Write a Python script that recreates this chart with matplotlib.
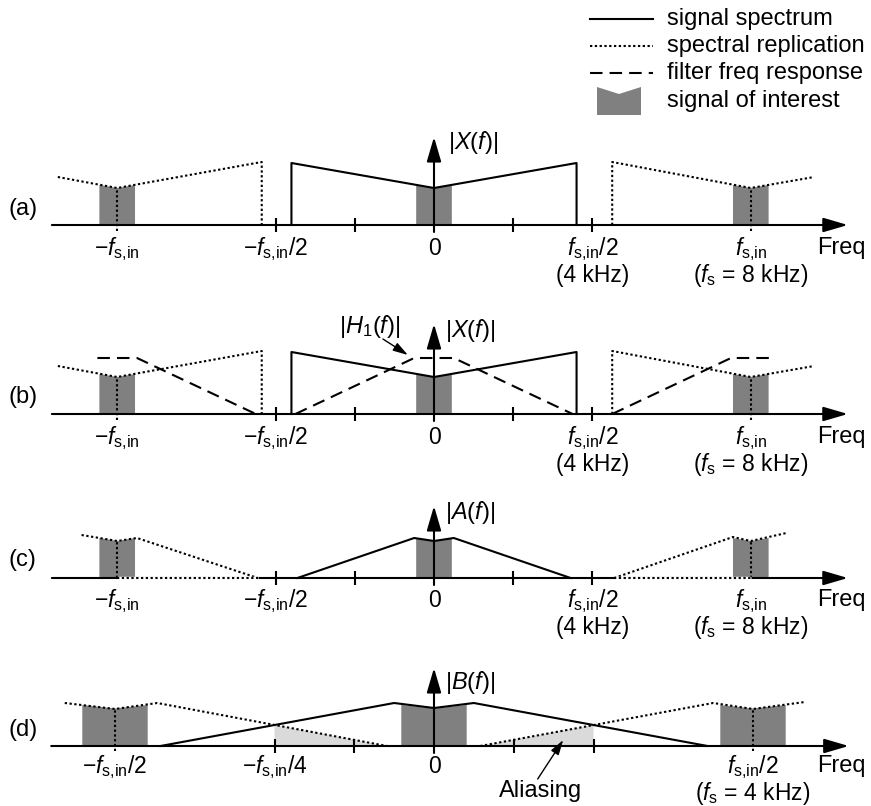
import matplotlib
matplotlib.use('Agg')
import matplotlib.pyplot as plt

plt.rcParams['font.family'] = ['Liberation Sans', 'DejaVu Sans']
plt.rcParams['mathtext.fontset'] = 'custom'
plt.rcParams['mathtext.rm'] = 'Liberation Sans'
plt.rcParams['mathtext.it'] = 'Liberation Sans:italic'
plt.rcParams['mathtext.bf'] = 'Liberation Sans:bold'

# ---------------- data (frequency in kHz, magnitude in arbitrary units) ----------------
ticks_abc = [-4, -2, 2, 4]
ticks_d = [-2, -1, 1, 2]

# (a),(b) |X(f)| and its replicas
x_sig_f = [-3.6, -3.6, 0.0, 3.6, 3.6]
x_sig_h = [0, 62, 37, 62, 0]
x_repL_f = [-9.5, -8.0, -4.35, -4.35]
x_repL_h = [48, 37, 63, 0]
x_repR_f = [4.5, 4.5, 8.0, 9.6]
x_repR_h = [0, 63, 37, 48]

# (b) filter |H1(f)| and replicas
h_f = [-3.5, -0.5, 0.5, 3.5]
h_h = [0, 56, 56, 0]
h_repL_f = [-8.5, -7.5, -4.5]
h_repL_h = [56, 56, 0]
h_repR_f = [4.5, 7.5, 8.5]
h_repR_h = [0, 56, 56]

# (c) |A(f)| and replicas
a_sig_f = [-3.45, -0.5, 0.0, 0.5, 3.45]
a_sig_h = [0, 40, 37, 40, 0]
a_repL_f = [-8.9, -8.0, -7.5, -4.45]
a_repL_h = [43, 37, 40, 0]
a_repR_f = [4.55, 7.55, 8.0, 8.9]
a_repR_h = [0, 41, 37, 45]

# (d) |B(f)| and replicas (f_s = 4 kHz)
b_sig_f = [-3.43, -0.5, 0.0, 0.5, 3.43]
b_sig_h = [0, 43, 38, 43, 0]
b_repL_f = [-4.63, -4.0, -3.47, -0.59]
b_repL_h = [43, 37, 43, 0]
b_repR_f = [0.58, 3.5, 4.0, 4.65]
b_repR_h = [0, 43, 37, 44]
alias_L_f = [-2.0, -2.0, -0.59]
alias_L_h = [0, 21, 0]
alias_R_f = [0.58, 2.0, 2.0]
alias_R_h = [0, 21, 0]

# signals of interest (band offsets around each centre, top heights)
band_abc_centers = [-8, 0, 8]
band_abc_off = [-0.45, 0.0, 0.45]
band_ab_top = [40, 37, 40]
band_c_top = [40, 37, 40]
band_d_centers = [-4, 0, 4]
band_d_off = [-0.41, 0.0, 0.41]
band_d_top = [41, 37.5, 41]

labels_abc = [(-8, r'$-f_{\mathrm{s{,}in}}$', None),
              (-4, r'$-f_{\mathrm{s{,}in}}/2$', None),
              (0, '0', None),
              (4, r'$f_{\mathrm{s{,}in}}/2$', '(4 kHz)'),
              (8, r'$f_{\mathrm{s{,}in}}$', r'($f_{\mathrm{s}}$ = 8 kHz)')]
labels_d = [(-4, r'$-f_{\mathrm{s{,}in}}/2$', None),
            (-2, r'$-f_{\mathrm{s{,}in}}/4$', None),
            (0, '0', None),
            (4, r'$f_{\mathrm{s{,}in}}/2$', r'($f_{\mathrm{s}}$ = 4 kHz)')]

# ---------------- figure ----------------
W, H = 871, 806
fig = plt.figure(figsize=(W / 100, H / 100), dpi=100)

FS = 16.5
LW = 1.5
GREY = '#808080'
LIGHT = '#dadada'
DOT = (0, (1.1, 1.2))
DASH = (0, (6.0, 3.4))


def make_ax(baseline_px, origin_px, px_per_khz):
    left, right = 40, 860
    ax = fig.add_axes([left / W, 1 - (baseline_px + 60) / H, (right - left) / W, 160 / H])
    ax.set_xlim((left - origin_px) / px_per_khz, (right - origin_px) / px_per_khz)
    ax.set_ylim(-60, 100)
    ax.axis('off')
    return ax


def axes_frame(ax, x0, x1, ticks, ytop, ylabel, ylab_x, ylab_y):
    ax.annotate('', xy=(x1, 0), xytext=(x0, 0),
                arrowprops=dict(arrowstyle='-|>,head_length=0.75,head_width=0.22',
                                lw=LW, color='k', mutation_scale=20,
                                shrinkA=0, shrinkB=0), zorder=5)
    ax.annotate('', xy=(0, ytop), xytext=(0, -7),
                arrowprops=dict(arrowstyle='-|>,head_length=0.75,head_width=0.22',
                                lw=LW, color='k', mutation_scale=20,
                                shrinkA=0, shrinkB=0), zorder=6)
    for t in ticks:
        ax.plot([t, t], [-7, 7], color='k', lw=LW, zorder=5, solid_capstyle='butt')
    ax.text(ylab_x, ylab_y, ylabel, fontsize=17, ha='left', va='center')


def bands(ax, centers, offs, tops, color=GREY):
    for c in centers:
        xs = [c + offs[0]] + [c + o for o in offs] + [c + offs[-1]]
        ys = [0] + list(tops) + [0]
        ax.fill(xs, ys, color=color, lw=0, zorder=1)


def tick_labels(ax, labels, freq_x, y1=-30, y2=-57):
    for x, l1, l2 in labels:
        ax.text(x, y1, l1, fontsize=FS, ha='center', va='baseline')
        if l2:
            ax.text(x, y2, l2, fontsize=FS, ha='center', va='baseline')
    ax.text(freq_x, y1 + 1, 'Freq', fontsize=17, ha='left', va='baseline')


# ---- (a) ----
axa = make_ax(225, 434, 39.6)
bands(axa, band_abc_centers, band_abc_off, band_ab_top)
axa.plot(x_sig_f, x_sig_h, color='k', lw=LW, zorder=3)
axa.plot(x_repL_f, x_repL_h, color='k', lw=LW, ls=DOT, zorder=3)
axa.plot(x_repR_f, x_repR_h, color='k', lw=LW, ls=DOT, zorder=3)
for c in (-8, 8):
    axa.plot([c, c], [-6, 37], color='k', lw=LW, ls=DOT, zorder=3)
axes_frame(axa, -9.65, 10.45, ticks_abc, 88, r'$|X(f)|$', 0.35, 83)
tick_labels(axa, labels_abc, 9.67)

# ---- (b) ----
axb = make_ax(414, 434, 39.6)
bands(axb, band_abc_centers, band_abc_off, band_ab_top)
axb.plot(x_sig_f, x_sig_h, color='k', lw=LW, zorder=3)
axb.plot(x_repL_f, x_repL_h, color='k', lw=LW, ls=DOT, zorder=3)
axb.plot(x_repR_f, x_repR_h, color='k', lw=LW, ls=DOT, zorder=3)
for c in (-8, 8):
    axb.plot([c, c], [-6, 37], color='k', lw=LW, ls=DOT, zorder=3)
axb.plot(h_f, h_h, color='k', lw=LW, ls=DASH, zorder=3)
axb.plot(h_repL_f, h_repL_h, color='k', lw=LW, ls=DASH, zorder=3)
axb.plot(h_repR_f, h_repR_h, color='k', lw=LW, ls=DASH, zorder=3)
axes_frame(axb, -9.65, 10.45, ticks_abc, 90, r'$|X(f)|$', 0.28, 84)
axb.text(-1.62, 87, r'$|H_1(f)|$', fontsize=17, ha='center', va='center')
axb.annotate('', xy=(-0.66, 59), xytext=(-1.29, 75),
             arrowprops=dict(arrowstyle='-|>,head_length=0.5,head_width=0.15',
                             lw=1.0, color='k', mutation_scale=18,
                             shrinkA=0, shrinkB=0))
tick_labels(axb, labels_abc, 9.67)

# ---- (c) ----
axc = make_ax(578, 434, 39.6)
bands(axc, band_abc_centers, band_abc_off, band_c_top)
axc.plot(a_sig_f, a_sig_h, color='k', lw=LW, zorder=3)
axc.plot(a_repL_f, a_repL_h, color='k', lw=LW, ls=DOT, zorder=3)
axc.plot(a_repR_f, a_repR_h, color='k', lw=LW, ls=DOT, zorder=3)
for c in (-8, 8):
    axc.plot([c, c], [0, 37], color='k', lw=LW, ls=DOT, zorder=3)
axes_frame(axc, -9.65, 10.45, ticks_abc, 72, r'$|A(f)|$', 0.28, 65)
# replica floor drawn dotted over the axis
for seg in ([-8.0, -4.45], [4.55, 8.0]):
    axc.plot(seg, [0, 0], color='white', lw=LW + 1, zorder=6, solid_capstyle='butt')
    axc.plot(seg, [0, 0], color='k', lw=LW, ls=DOT, zorder=7)
tick_labels(axc, labels_abc, 9.67, y1=-29, y2=-56)

# ---- (d) ----
axd = make_ax(746, 434, 79.75)
bands(axd, band_d_centers, band_d_off, band_d_top)
axd.fill(alias_L_f, alias_L_h, color=LIGHT, lw=0, zorder=1)
axd.fill(alias_R_f, alias_R_h, color=LIGHT, lw=0, zorder=1)
axd.plot(b_sig_f, b_sig_h, color='k', lw=LW, zorder=3)
axd.plot(b_repL_f, b_repL_h, color='k', lw=LW, ls=DOT, zorder=3)
axd.plot(b_repR_f, b_repR_h, color='k', lw=LW, ls=DOT, zorder=3)
for c in (-4, 4):
    axd.plot([c, c], [-5, 37], color='k', lw=LW, ls=DOT, zorder=3)
axes_frame(axd, -4.8, 5.2, ticks_d, 78, r'$|B(f)|$', 0.14, 64)
axd.text(1.33, -45, 'Aliasing', fontsize=17, ha='center', va='center')
axd.annotate('', xy=(1.62, 6), xytext=(1.3, -33),
             arrowprops=dict(arrowstyle='-|>,head_length=0.5,head_width=0.15',
                             lw=1.0, color='k', mutation_scale=18,
                             shrinkA=0, shrinkB=0), zorder=8)
tick_labels(axd, labels_d, 4.8, y1=-27, y2=-54)

# ---------------- overlay: legend and panel labels ----------------
ov = fig.add_axes([0, 0, 1, 1], zorder=-1)
ov.set_xlim(0, W)
ov.set_ylim(H, 0)
ov.axis('off')

leg_y = [19, 46, 73, 101]
ov.plot([590, 653], [leg_y[0]] * 2, color='k', lw=LW)
ov.plot([590, 653], [leg_y[1]] * 2, color='k', lw=LW, ls=DOT)
ov.plot([590, 653], [leg_y[2]] * 2, color='k', lw=LW, ls=DASH)
ov.fill([597, 597, 619, 641, 641], [115, 87, 94, 87, 115], color=GREY, lw=0)
for y, t in zip(leg_y, ['signal spectrum', 'spectral replication',
                        'filter freq response', 'signal of interest']):
    ov.text(667, y, t, fontsize=17, ha='left', va='center')

for y, t in zip([209, 397, 560, 730], ['(a)', '(b)', '(c)', '(d)']):
    ov.text(8, y, t, fontsize=17, ha='left', va='center')

fig.savefig('out.png', dpi=100)
